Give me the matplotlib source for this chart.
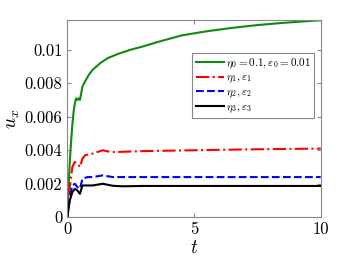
import matplotlib
matplotlib.use("Agg")
import matplotlib.pyplot as plt

plt.rcParams["font.family"] = "serif"
plt.rcParams["font.serif"] = ["cmr10", "DejaVu Serif"]
plt.rcParams["mathtext.fontset"] = "cm"
plt.rcParams["axes.formatter.use_mathtext"] = True

# values
t_green = [0, 0.05, 0.1, 0.15, 0.2, 0.25, 0.3, 0.35, 0.4, 0.45, 0.5, 0.55, 0.6, 0.7, 0.85, 1.0, 1.3, 1.6, 2.0, 2.5, 3.0, 3.5, 4.5, 5.5, 6.5, 7.5, 8.5, 10]
u_green = [0, 0.0018, 0.0033, 0.0045, 0.0055, 0.0063, 0.0068, 0.0071, 0.0070, 0.0071, 0.0070, 0.0074, 0.0078, 0.0081, 0.0085, 0.0088, 0.0092, 0.0095, 0.00975, 0.0100, 0.0102, 0.01043, 0.01085, 0.0111, 0.0113, 0.01147, 0.0116, 0.01176]

t_red = [0, 0.1, 0.2, 0.3, 0.4, 0.5, 0.6, 0.7, 1.0, 1.4, 1.7, 2.0, 3.0, 5.0, 7.0, 10]
u_red = [0, 0.0018, 0.0030, 0.0033, 0.0032, 0.0030, 0.0035, 0.0037, 0.0038, 0.0040, 0.0039, 0.0039, 0.00395, 0.0040, 0.00405, 0.0041]

t_blue = [0, 0.1, 0.2, 0.3, 0.4, 0.5, 0.6, 0.8, 1.0, 1.4, 1.8, 2.5, 5.0, 10]
u_blue = [0, 0.0012, 0.0019, 0.0020, 0.0018, 0.0017, 0.0023, 0.0024, 0.0024, 0.0025, 0.0024, 0.0024, 0.0024, 0.0024]

t_black = [0, 0.1, 0.2, 0.3, 0.4, 0.5, 0.6, 0.7, 1.0, 1.4, 1.8, 2.2, 3.0, 5.0, 10]
u_black = [0, 0.0010, 0.0015, 0.0017, 0.0016, 0.0014, 0.0019, 0.0019, 0.0019, 0.0020, 0.00188, 0.00185, 0.00187, 0.00187, 0.00187]

y_ticks = [0, 0.002, 0.004, 0.006, 0.008, 0.01]
y_tick_labels = ["0", "0.002", "0.004", "0.006", "0.008", "0.01"]
x_ticks = [0, 5, 10]

fig = plt.figure(figsize=(3.54, 2.65), dpi=100)
ax = fig.add_axes([0.19, 0.18, 0.716, 0.745])

ax.plot(t_green, u_green, color="#0f8a0f", lw=1.5, label=r"$\eta_0=0.1, \varepsilon_0=0.01$")
ax.plot(t_red, u_red, color="#ff0000", lw=1.5, ls="-.", label=r"$\eta_1, \varepsilon_1$")
ax.plot(t_blue, u_blue, color="#0000ff", lw=1.5, ls="--", label=r"$\eta_2, \varepsilon_2$")
ax.plot(t_black, u_black, color="black", lw=1.5, label=r"$\eta_3, \varepsilon_3$")

ax.set_xlim(0, 10)
ax.set_ylim(0, 0.01178)
ax.set_xticks(x_ticks)
ax.set_xticklabels([str(v) for v in x_ticks])
ax.set_yticks(y_ticks)
ax.set_yticklabels(y_tick_labels)
ax.tick_params(direction="in", length=3, labelsize=12, right=True, top=True, color="#888888")
for spine in ax.spines.values():
    spine.set_color("#888888")
    spine.set_linewidth(0.8)

ax.set_xlabel(r"$t$", fontsize=14, labelpad=1)
ax.set_ylabel(r"$u_x$", fontsize=14, labelpad=2)

leg = ax.legend(loc="upper right", bbox_to_anchor=(0.995, 0.86), fontsize=8, handlelength=2.6,
                handletextpad=0.1, borderpad=0.3, labelspacing=0.2, fancybox=False, framealpha=1)
leg.get_frame().set_edgecolor("#888888")
leg.get_frame().set_linewidth(0.8)

fig.savefig("out.png", dpi=100)
